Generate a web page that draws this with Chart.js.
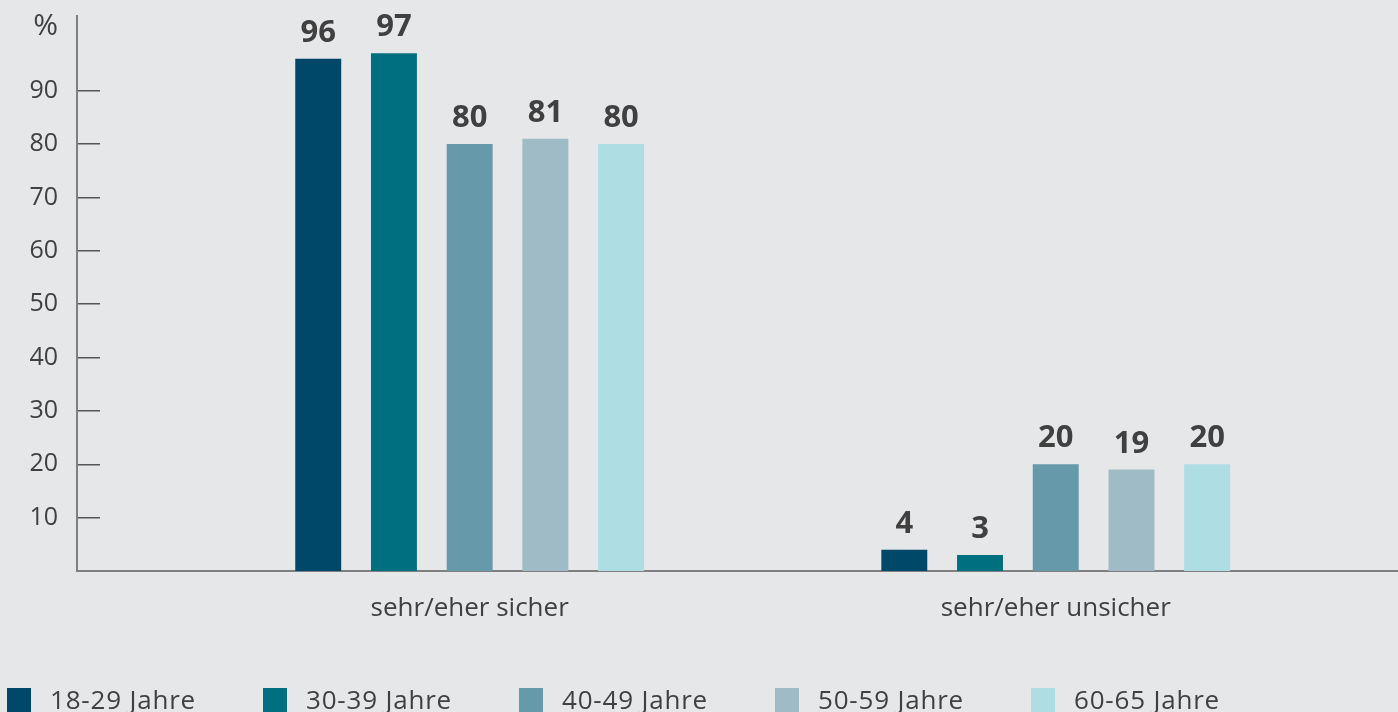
<!DOCTYPE html>
<html>
<head>
<meta charset="utf-8">
<script src="https://cdn.jsdelivr.net/npm/chart.js@4/dist/chart.umd.min.js"></script>
<style>
  html, body { margin: 0; padding: 0; background: #e6e7e9; }
  #wrap { position: relative; width: 1398px; height: 712px; overflow: hidden; }
  #legende { position: absolute; left: 7px; top: 688px; display: flex; font-family: "Open Sans", sans-serif; font-size: 26px; letter-spacing: 0.8px; color: #404040; }
  .item { width: 256px; display: flex; align-items: flex-start; }
  .box { width: 24px; height: 24px; margin-right: 19px; }
  .item span { line-height: 1; margin-top: -2px; }
</style>
</head>
<body>
<div id="wrap">
  <canvas id="grafico" width="1398" height="712"></canvas>
  <div id="legende"></div>
</div>
<script>
// dados ----------------------------------------------------------
let kategorien = ['sehr/eher sicher', 'sehr/eher unsicher']
let altersgruppen = ['18-29 Jahre', '30-39 Jahre', '40-49 Jahre', '50-59 Jahre', '60-65 Jahre']
let sicher = [96, 97, 80, 81, 80]
let unsicher = [4, 3, 20, 19, 20]
let yTicks = [10, 20, 30, 40, 50, 60, 70, 80, 90]
let farben = ['#00486a', '#007080', '#6699aa', '#9ebbc6', '#aedee3']

let grafico = document.getElementById('grafico')
let schrift = '"Open Sans", sans-serif'

let datasets = altersgruppen.map((nome, i) => ({
  label: nome,
  data: [{ x: 1, y: sicher[i] }, { x: 2, y: unsicher[i] }],
  backgroundColor: farben[i],
  borderWidth: 0,
  categoryPercentage: 0.646,
  barPercentage: 0.607
}))

// rotulos em cima das barras
let rotulos = {
  id: 'rotulos',
  afterDatasetsDraw(chart) {
    let ctx = chart.ctx
    ctx.save()
    ctx.font = 'bold 31px ' + schrift
    ctx.fillStyle = '#404040'
    ctx.textAlign = 'center'
    ctx.textBaseline = 'alphabetic'
    chart.data.datasets.forEach((ds, i) => {
      chart.getDatasetMeta(i).data.forEach((bar, j) => {
        ctx.fillText(ds.data[j].y, bar.x, bar.y - 17)
      })
    })
    ctx.restore()
  }
}

new Chart(grafico, {
  type: 'bar',
  data: { datasets: datasets },
  options: {
    responsive: false,
    animation: false,
    layout: { padding: { top: 16, right: 0, left: 0, bottom: 0 } },
    plugins: {
      legend: { display: false },
      tooltip: { enabled: false }
    },
    scales: {
      x: {
        type: 'linear',
        min: 0.33,
        max: 2.584,
        offset: false,
        afterBuildTicks: (s) => { s.ticks = [{ value: 1 }, { value: 2 }] },
        afterFit: (s) => { s.height = 141; s.paddingLeft = 0; s.paddingRight = 0 },
        grid: { display: false, drawTicks: false, offset: false },
        border: { display: true, color: '#7f7f7f', width: 2 },
        ticks: {
          padding: 22,
          color: '#404040',
          font: { family: schrift, size: 26 },
          callback: (v) => kategorien[v - 1]
        }
      },
      y: {
        min: 0,
        max: 104,
        afterBuildTicks: (s) => { s.ticks = yTicks.concat([102]).map(v => ({ value: v })) },
        afterFit: (s) => { s.width = 77; s.paddingTop = 0; s.paddingBottom = 0 },
        grid: {
          drawOnChartArea: false,
          tickLength: -23,
          lineWidth: 1.5,
          color: (c) => (c.tick && c.tick.value > 100) ? 'rgba(0,0,0,0)' : '#555555'
        },
        border: { display: true, color: '#7f7f7f', width: 2 },
        ticks: {
          padding: 42,
          color: '#404040',
          font: (c) => ({ family: schrift, size: (c.tick && c.tick.value > 100) ? 30 : 25 }),
          callback: (v) => v > 100 ? '%' : v
        }
      }
    }
  },
  plugins: [rotulos]
})

// legenda ----------------------------------------------------------
let legende = document.getElementById('legende')
altersgruppen.forEach((nome, i) => {
  let item = document.createElement('div')
  item.className = 'item'
  item.innerHTML = '<div class="box" style="background:' + farben[i] + '"></div><span>' + nome + '</span>'
  legende.appendChild(item)
})
</script>
</body>
</html>
